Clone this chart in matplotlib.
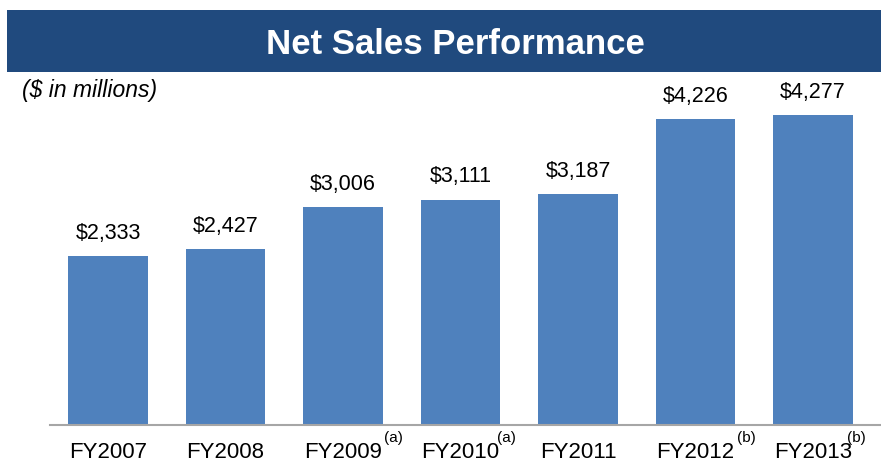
import numpy as np
import matplotlib
matplotlib.use('Agg')
import matplotlib.pyplot as plt

plt.rcParams['font.family'] = ['Liberation Sans', 'DejaVu Sans']

# data
years      = ['FY2007', 'FY2008', 'FY2009', 'FY2010', 'FY2011', 'FY2012', 'FY2013']
net_sales  = [2333, 2427, 3006, 3111, 3187, 4226, 4277]
footnotes  = ['', '', '(a)', '(a)', '', '(b)', '(b)']

fig = plt.figure(figsize=(8.81, 4.62), dpi=100)

# title banner
banner = fig.add_axes([7/881, 1 - 72/462, 874/881, 62/462])
banner.set_facecolor('#204a7e')
banner.set_xticks([])
banner.set_yticks([])
for s in banner.spines.values():
    s.set_visible(False)
banner.text(0.513, 0.45, 'Net Sales Performance', color='white', fontsize=25,
            fontweight='bold', ha='center', va='center', transform=banner.transAxes)

fig.text(22/881, 1 - 91/462, '($ in millions)', fontsize=16.5, style='italic',
         ha='left', va='center')

# main bar axes
ax = fig.add_axes([50/881, 1 - 425/462, 831/881, 345/462])
x = np.arange(len(years))
ax.bar(x, net_sales, width=0.68, color='#4f81bd')

ax.set_xlim((50 - 108) / 117.5, (881 - 108) / 117.5)
ax.set_ylim(0, 345 / 0.0724)

for xi, v in zip(x, net_sales):
    ax.annotate(f'${v:,}', (xi, v), xytext=(0, 9), textcoords='offset points',
                ha='center', va='bottom', fontsize=15.5)

ax.set_xticks(x)
ax.set_xticklabels(years, fontsize=16)
ax.tick_params(axis='x', length=0, pad=12.5)
ax.set_yticks([])

sup_dx = [0, 0, 41, 37, 0, 41, 34]
for xi, fn, dx in zip(x, footnotes, sup_dx):
    if fn:
        ax.annotate(fn, (xi, 0), xytext=(dx * 0.72, -9.5), textcoords='offset points',
                    ha='left', va='center', fontsize=11)

for side in ['top', 'right', 'left']:
    ax.spines[side].set_visible(False)
ax.spines['bottom'].set_color('#a6a6a6')
ax.spines['bottom'].set_linewidth(1.5)

fig.savefig('out.png', dpi=100)
